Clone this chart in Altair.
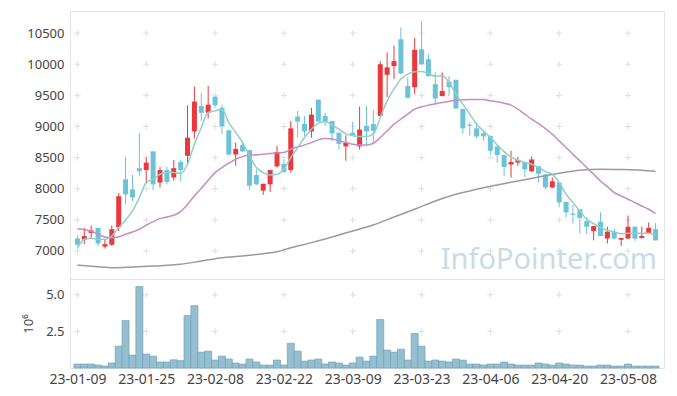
import json
import altair as alt
import pandas as pd

# ---- data ----
tick_index = [0, 10, 20, 30, 40, 50, 60, 70, 80]
tick_labels = ['23-01-09', '23-01-25', '23-02-08', '23-02-22', '23-03-09',
               '23-03-23', '23-04-06', '23-04-20', '23-05-08']
price_ticks = [7000, 7500, 8000, 8500, 9000, 9500, 10000, 10500]
vol_ticks = [2.5, 5.0]

opens = [7200, 7180, 7290, 7370, 7070, 7100, 7380, 8150, 7990, 8330,
         8300, 8600, 8100, 8300, 8180, 8430, 8530, 8920, 9330, 9220,
         9480, 9300, 8940, 8550, 8700, 8620, 8220, 7970, 8070, 8360,
         8400, 8300, 9160, 9040, 8920, 9430, 9170, 9090, 8900, 8680,
         8900, 8680, 9010, 9040, 9170, 9830, 9970, 10400, 9650, 9630,
         10240, 10080, 9680, 9490, 9720, 9750, 9280, 9030, 8970, 8890,
         8850, 8680, 8540, 8390, 8420, 8430, 8280, 8360, 8230, 8020,
         8100, 7790, 7600, 7670, 7480, 7320, 7470, 7200, 7310, 7180,
         7200, 7390, 7210, 7290, 7350]
highs = [7250, 7370, 7410, 7370, 7180, 7410, 7930, 8510, 8220, 8890,
         8500, 8600, 8350, 8350, 8460, 8470, 9340, 9640, 9540, 9650,
         9480, 9350, 8940, 8740, 8760, 8620, 8310, 8080, 8300, 8690,
         8470, 9090, 9250, 9170, 9300, 9430, 9220, 9090, 8900, 8860,
         9080, 9320, 9330, 9260, 10050, 10190, 10300, 10590, 9790, 10420,
         10690, 10160, 9870, 9870, 9810, 9750, 9280, 9070, 9070, 8910,
         8850, 8680, 8540, 8610, 8510, 8430, 8520, 8360, 8240, 8180,
         8100, 7790, 7740, 7670, 7540, 7400, 7620, 7390, 7360, 7210,
         7570, 7390, 7390, 7460, 7450]
lows = [7080, 7110, 7210, 7080, 7040, 7080, 7320, 7750, 7800, 8200,
        8080, 7980, 8020, 8070, 8130, 8120, 8390, 8810, 9090, 9130,
        9300, 8880, 8530, 8370, 8590, 7980, 8060, 7900, 7950, 8340,
        8250, 8260, 8820, 8850, 8820, 9080, 9010, 8770, 8630, 8450,
        8850, 8630, 8680, 8720, 9160, 9470, 9760, 9850, 9450, 9520,
        10000, 9800, 9350, 9480, 9490, 9280, 8880, 8850, 8810, 8770,
        8550, 8420, 8200, 8180, 8370, 8190, 8270, 8100, 7990, 8010,
        7700, 7540, 7440, 7280, 7270, 7170, 7240, 7120, 7190, 7080,
        7190, 7160, 7200, 7280, 7170]
closes = [7100, 7240, 7330, 7120, 7110, 7350, 7880, 7910, 7860, 8280,
          8420, 8070, 8300, 8110, 8330, 8300, 8820, 9400, 9220, 9350,
          9340, 9000, 8550, 8640, 8600, 8050, 8070, 8080, 8300, 8590,
          8270, 8970, 9080, 8920, 9190, 9080, 9080, 8890, 8720, 8740,
          8860, 8950, 8920, 8930, 10000, 9950, 10050, 9850, 9460, 10230,
          10000, 9810, 9450, 9570, 9630, 9290, 8970, 9010, 8840, 8840,
          8610, 8540, 8350, 8430, 8460, 8310, 8470, 8240, 8020, 8120,
          7780, 7620, 7580, 7530, 7390, 7400, 7240, 7310, 7200, 7210,
          7390, 7200, 7240, 7370, 7170]
volumes = [0.27, 0.27, 0.27, 0.2, 0.13, 0.34, 1.49, 3.24, 0.88, 5.56,
           0.95, 0.81, 0.41, 0.41, 0.56, 0.5, 3.58, 4.26, 1.08, 1.15,
           0.54, 0.81, 0.61, 0.34, 0.27, 0.61, 0.41, 0.2, 0.2, 0.54,
           0.2, 1.69, 1.15, 0.47, 0.54, 0.61, 0.27, 0.41, 0.34, 0.2,
           0.34, 0.74, 0.47, 0.81, 3.31, 1.22, 1.08, 1.28, 0.54, 2.36,
           1.49, 0.47, 0.54, 0.47, 0.41, 0.61, 0.54, 0.27, 0.27, 0.2,
           0.27, 0.27, 0.41, 0.27, 0.2, 0.2, 0.2, 0.34, 0.27, 0.2,
           0.34, 0.27, 0.2, 0.2, 0.13, 0.13, 0.2, 0.2, 0.13, 0.13,
           0.27, 0.13, 0.13, 0.13, 0.13]
ma5 = [7043, 7188, 7204, 7188, 7188, 7241, 7375, 7498, 7643, 7857,
       8098, 8152, 8232, 8259, 8259, 8243, 8393, 8715, 8982, 9224,
       9251, 9278, 9063, 8902, 8741, 8527, 8340, 8259, 8222, 8232,
       8313, 8500, 8661, 8822, 8956, 9052, 9074, 9025, 8956, 8886,
       8850, 8838, 8838, 8876, 9143, 9412, 9600, 9761, 9841, 9878,
       9883, 9851, 9806, 9814, 9706, 9519, 9358, 9198, 9037, 8929,
       8822, 8704, 8597, 8511, 8457, 8420, 8393, 8340, 8275, 8232,
       8098, 7911, 7777, 7643, 7509, 7439, 7375, 7332, 7305, 7278,
       7284, 7284, 7284, 7284, 7268]
ma20 = [7359, 7343, 7322, 7268, 7225, 7214, 7230, 7268, 7305, 7349,
        7413, 7471, 7520, 7547, 7573, 7632, 7750, 7884, 8008, 8136,
        8259, 8340, 8410, 8474, 8516, 8543, 8543, 8554, 8565, 8576,
        8581, 8635, 8672, 8704, 8741, 8785, 8806, 8800, 8769, 8741,
        8715, 8704, 8704, 8731, 8822, 8929, 9037, 9117, 9198, 9278,
        9316, 9343, 9364, 9385, 9405, 9423, 9428, 9434, 9434, 9434,
        9412, 9396, 9374, 9343, 9278, 9198, 9117, 9047, 8966, 8876,
        8769, 8661, 8554, 8447, 8340, 8232, 8125, 8034, 7938, 7884,
        7831, 7777, 7723, 7670, 7600]
ma60_idx = [0, 3, 5, 8, 11, 15, 18, 21, 24, 27, 29, 31, 34, 37, 40,
            43, 46, 49, 52, 55, 58, 61, 64, 67, 70, 73, 76, 79, 82, 84]
ma60 = [6770, 6748, 6732, 6743, 6759, 6786, 6839, 6893, 6920, 6957,
        6989, 7053, 7134, 7225, 7322, 7418, 7547, 7670, 7804, 7911,
        7992, 8061, 8125, 8190, 8249, 8297, 8313, 8308, 8297, 8281]

# ---- tables ----
n = len(closes)
df = pd.DataFrame({'i': list(range(n)), 'open': opens, 'high': highs,
                   'low': lows, 'close': closes, 'vol': volumes,
                   'ma5': ma5, 'ma20': ma20})
df60 = pd.DataFrame({'i': ma60_idx, 'ma60': ma60})
grid_price = pd.DataFrame([{'i': a, 'p': b} for a in tick_index for b in price_ticks])
grid_vol = pd.DataFrame([{'i': a, 'v': b} for a in tick_index for b in vol_ticks])

RED = '#e8393d'
BLUE = '#6cc2d9'
FONT = 'Noto Sans'
CROSS = 'M-1,0L1,0M0,-1L0,1'

xscale = alt.Scale(domain=[-0.35, 84.5], nice=False, zero=False)
pscale = alt.Scale(domain=[6550, 10855], nice=False, zero=False)
vscale = alt.Scale(domain=[0, 6.08], nice=False, zero=True)

label_expr = json.dumps(tick_labels) + '[round(datum.value / 10)]'
color_cond = alt.condition('datum.close >= datum.open', alt.value(RED), alt.value(BLUE))

price_axis = alt.Axis(values=price_ticks, format='d', labelPadding=6, title=None)
vol_axis = alt.Axis(values=vol_ticks, format='.1f', labelPadding=6, title='10⁶',
                    titlePadding=10, titleFontSize=13, titleFontWeight='normal',
                    titleColor='#444', titleFont=FONT)
x_axis = alt.Axis(values=tick_index, labelExpr=label_expr, labelPadding=4,
                  labelFontSize=14, title=None)


def XT(field='i:Q'):
    return alt.X(field, scale=xscale, axis=None)


def XB(field='i:Q'):
    return alt.X(field, scale=xscale, axis=x_axis)


def PY(field):
    return alt.Y(field, scale=pscale, axis=price_axis)


def VY(field):
    return alt.Y(field, scale=vscale, axis=vol_axis)


crosses_p = alt.Chart(grid_price).mark_point(
    shape=CROSS, size=40, filled=False, stroke='#dedede', strokeWidth=1, opacity=1
).encode(x=XT(), y=PY('p:Q'))

wicks = alt.Chart(df).mark_rule(strokeWidth=1).encode(
    x=XT(), y=PY('low:Q'), y2='high:Q', color=color_cond)
bodies = alt.Chart(df).mark_bar(size=5).encode(
    x=XT(), y=PY('open:Q'), y2='close:Q', color=color_cond)

line5 = alt.Chart(df).mark_line(color='#8ed0c6', strokeWidth=1.5, interpolate='monotone').encode(
    x=XT(), y=PY('ma5:Q'))
line20 = alt.Chart(df).mark_line(color='#c98bc8', strokeWidth=1.5, interpolate='monotone').encode(
    x=XT(), y=PY('ma20:Q'))
line60 = alt.Chart(df60).mark_line(color='#9a9a9a', strokeWidth=1.5, interpolate='monotone').encode(
    x=XT(), y=PY('ma60:Q'))

watermark = alt.Chart(pd.DataFrame({'t': ['InfoPointer.com']})).mark_text(
    font='Noto Sans', fontSize=29, color='#c9dce6', align='right', baseline='alphabetic'
).encode(text='t:N', x=alt.value(587), y=alt.value(258))

top = alt.layer(crosses_p, watermark, wicks, bodies, line60, line20, line5).properties(
    width=594, height=268)

crosses_v = alt.Chart(grid_vol).mark_point(
    shape=CROSS, size=40, filled=False, stroke='#dedede', strokeWidth=1, opacity=1
).encode(x=XB(), y=VY('v:Q'))

vbars = alt.Chart(df).mark_bar(size=7, fill='#95bfd0', stroke='#6fa2b8', strokeWidth=0.7).encode(
    x=XB(), y=VY('vol:Q'))

bottom = alt.layer(crosses_v, vbars).properties(width=594, height=89)

chart = alt.vconcat(top, bottom, spacing=0, bounds='flush').properties(
    padding={'left': 14, 'top': 2, 'right': 0, 'bottom': 0}
).configure_view(stroke='#e3e3e3').configure_axis(
    labelFont=FONT, labelFontSize=13, labelColor='#444', domain=False, ticks=False, grid=False
)

chart.save('out.html', embed_options={'renderer': 'svg', 'actions': False})
